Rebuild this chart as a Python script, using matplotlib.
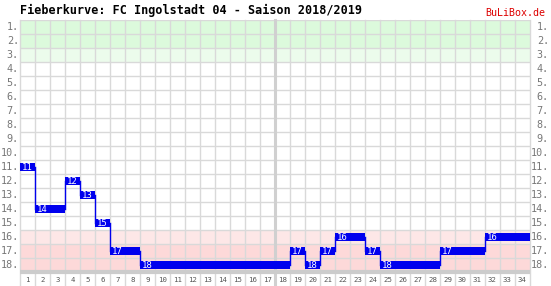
import matplotlib
matplotlib.use("Agg")
import matplotlib.pyplot as plt

plt.rc('font', family='DejaVu Sans Mono')

title = "Fieberkurve: FC Ingolstadt 04 - Saison 2018/2019"
matchdays = list(range(1, 35))
ranks = [11, 14, 14, 12, 13, 15, 17, 17, 18, 18, 18, 18, 18, 18, 18, 18, 18, 18,
         17, 18, 17, 16, 16, 17, 18, 18, 18, 18, 17, 17, 17, 16, 16, 16]
n_teams = 18
row_colors = {1: "#dcfadc", 2: "#dcfadc", 3: "#ecfcec",
              16: "#fde7e7", 17: "#fdd9d9", 18: "#fdd9d9"}

W, H = 551, 286
fig = plt.figure(figsize=(W / 100, H / 100), dpi=100)
left, top, right, bottom = 20, 20, 530, 272
ax = fig.add_axes([left / W, 1 - bottom / H, (right - left) / W, (bottom - top) / H])
ax.set_xlim(0, len(matchdays))
ax.set_ylim(n_teams, 0)
ax.axis('off')

# row backgrounds
for r, c in row_colors.items():
    ax.axhspan(r - 1, r, color=c, lw=0, zorder=0)

# grid
grid_c = "#d9d9d9"
for k in range(n_teams + 1):
    ax.axhline(k, color=grid_c, lw=1, zorder=1)
for k in range(len(matchdays) + 1):
    ax.plot([k, k], [0, n_teams + 1], color=grid_c, lw=1, zorder=1, clip_on=False)
ax.plot([17, 17], [0, n_teams + 1], color="#d0d0d0", lw=2.2, zorder=1, clip_on=False)
ax.plot([0, len(matchdays)], [n_teams, n_teams], color="#cccccc", lw=3, zorder=1,
        clip_on=False, solid_capstyle='butt')

# bars
blue = "#0000ee"
bh = 0.58
ax.bar([m - 1 for m in matchdays], [bh] * len(ranks), width=1, align='edge',
       bottom=[r - 0.5 - bh / 2 for r in ranks], color=blue, lw=0, zorder=3)
for i, (m, r) in enumerate(zip(matchdays, ranks)):
    if i > 0 and r != ranks[i - 1]:
        ax.plot([m - 1, m - 1], [ranks[i - 1] - 0.5, r - 0.5], color=blue, lw=1, zorder=3)
    if i == 0 or r != ranks[i - 1]:
        ax.text(m - 1 + 0.12, r - 0.5, str(r), color="white", fontsize=6.5,
                va='center', ha='left', zorder=4)

# labels
for r in range(1, n_teams + 1):
    ax.text(-0.07, r - 0.5, f"{r}.", color="#777777", fontsize=7.3, ha='right',
            va='center', clip_on=False)
    fig.text(549 / W, 1 - (top + (r - 0.5) * 14) / H, f"{r}.", color="#777777",
             fontsize=7.3, ha='right', va='center')
for m in matchdays:
    ax.text(m - 0.5, n_teams + 0.55, str(m), color="#555555", fontsize=5.3,
            ha='center', va='center', clip_on=False)

fig.text(20 / W, 1 - 10 / H, title, fontsize=8.5, fontweight='bold', ha='left', va='center')
fig.text(545 / W, 1 - 13 / H, "BuLiBox.de", fontsize=7.2, color="#dd0000",
         ha='right', va='center')

fig.savefig("out.png", dpi=100)
